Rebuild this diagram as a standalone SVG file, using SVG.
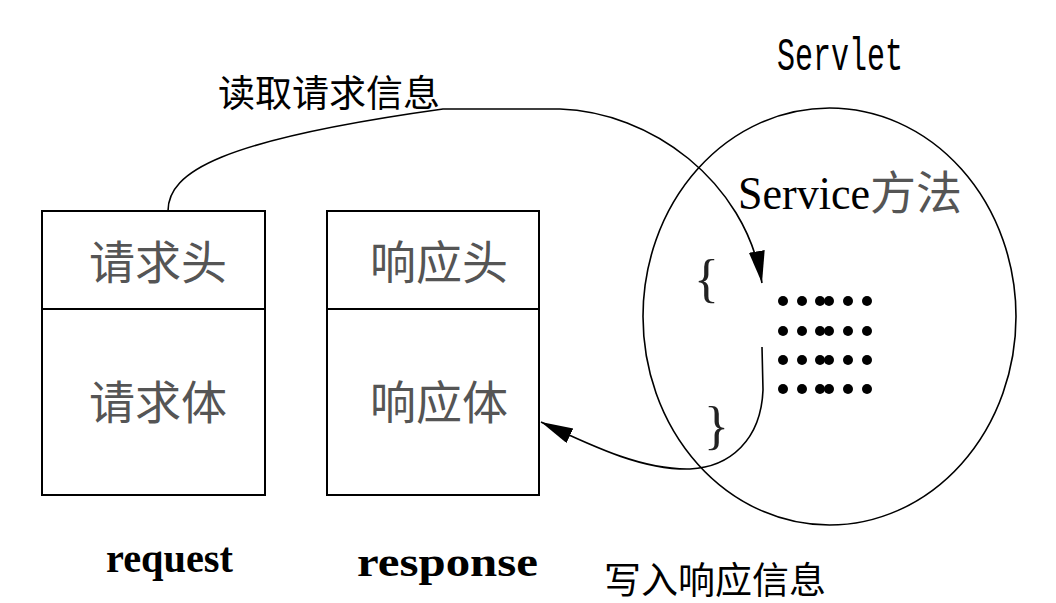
<svg xmlns="http://www.w3.org/2000/svg" width="1056" height="603" viewBox="0 0 1056 603">
<defs>
<style>
.box{fill:none;stroke:#000;stroke-width:2}
.line{fill:none;stroke:#000;stroke-width:1.6}
.cjk{font-family:"Noto Sans CJK SC","Liberation Serif",serif}
.inbox{font-family:"Noto Sans CJK SC",serif;font-size:46px;fill:#555;text-anchor:middle}
.lbl{font-family:"Noto Sans CJK SC",serif;fill:#000}
.mono{font-family:"Liberation Mono",monospace;fill:#000}
.name{font-family:"Liberation Serif",serif;font-weight:bold;fill:#000;font-size:42px}
.dot{fill:#000}
</style>
<marker id="arrow" markerUnits="userSpaceOnUse" markerWidth="40" markerHeight="20" refX="32" refY="8" orient="auto">
<path d="M0,0 L32,8 L0,16 Z" fill="#000"/>
</marker>
</defs>
<rect width="1056" height="603" fill="#fff"/>

<g id="request">
<rect class="box" x="42" y="211" width="223" height="284"/>
<line class="box" x1="42" y1="309" x2="265" y2="309"/>
<text class="inbox" x="158" y="279">请求头</text>
<text class="inbox" x="158" y="419">请求体</text>
<text class="name" x="106" y="572" textLength="127" lengthAdjust="spacingAndGlyphs">request</text>
</g>

<g id="response">
<rect class="box" x="327" y="211" width="212" height="284"/>
<line class="box" x1="327" y1="309" x2="539" y2="309"/>
<text class="inbox" x="439" y="279">响应头</text>
<text class="inbox" x="439" y="419">响应体</text>
<text class="name" x="357" y="576" textLength="181" lengthAdjust="spacingAndGlyphs">response</text>
</g>

<g id="servlet">
<ellipse class="line" cx="829.5" cy="316.5" rx="186.5" ry="208.5"/>
<text class="mono" x="777" y="70" font-size="46" textLength="126" lengthAdjust="spacingAndGlyphs">Servlet</text>
<text x="738" y="209" font-size="46"><tspan font-family="Liberation Serif, serif" fill="#000" textLength="132" lengthAdjust="spacingAndGlyphs">Service</tspan><tspan class="cjk" fill="#555" font-size="46">方法</tspan></text>
<text x="694" y="296" font-family="Liberation Serif, serif" font-size="52" fill="#222">{</text>
<text x="704" y="443" font-family="Liberation Serif, serif" font-size="52" fill="#222">}</text>
<g class="dot">
<circle cx="783" cy="301" r="5"/><circle cx="802" cy="301" r="5"/><circle cx="820" cy="301" r="5"/><circle cx="829" cy="301" r="5"/><circle cx="848" cy="301" r="5"/><circle cx="867" cy="301" r="5"/>
<circle cx="783" cy="331" r="5"/><circle cx="802" cy="331" r="5"/><circle cx="820" cy="331" r="5"/><circle cx="829" cy="331" r="5"/><circle cx="848" cy="331" r="5"/><circle cx="867" cy="331" r="5"/>
<circle cx="783" cy="360" r="5"/><circle cx="802" cy="360" r="5"/><circle cx="820" cy="360" r="5"/><circle cx="829" cy="360" r="5"/><circle cx="848" cy="360" r="5"/><circle cx="867" cy="360" r="5"/>
<circle cx="783" cy="389" r="5"/><circle cx="802" cy="389" r="5"/><circle cx="820" cy="389" r="5"/><circle cx="829" cy="389" r="5"/><circle cx="848" cy="389" r="5"/><circle cx="867" cy="389" r="5"/>
</g>
</g>

<g id="connectors">
<path class="line" d="M168,211 C168,172 220,140 443,109 L560,109 C650,112 745,180 762,283" marker-end="url(#arrow)"/>
<path class="line" d="M762,347 L763,390 C761,440 730,467 690,469 C645,470 600,450 541,422" marker-end="url(#arrow)"/>
<text class="lbl" x="218" y="107" font-size="37">读取请求信息</text>
<text class="lbl" x="604" y="594" font-size="37">写入响应信息</text>
</g>
</svg>
